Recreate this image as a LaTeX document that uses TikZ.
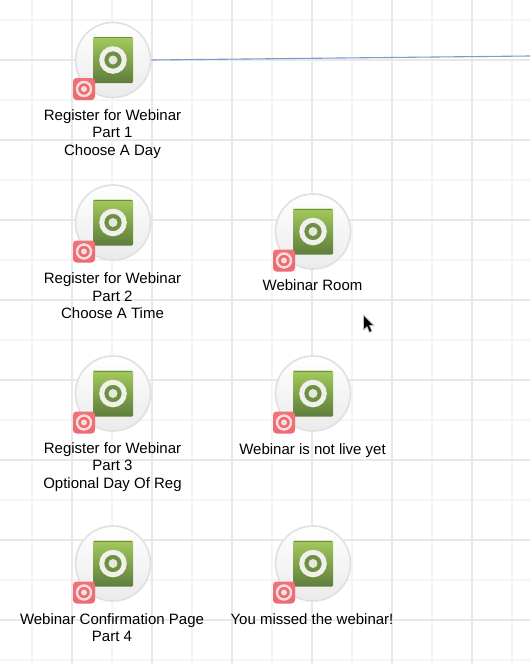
\documentclass[tikz,border=0pt]{standalone}
\usepackage{fontspec}
\setmainfont{Liberation Sans}
\definecolor{gridminor}{HTML}{F4F4F4}
\definecolor{gridmajor}{HTML}{E8E8E8}
\definecolor{linkblue}{HTML}{7C9AD0}
\definecolor{gcol1}{HTML}{A3CA5C}
\definecolor{gcol2}{HTML}{5E7D3C}
\definecolor{gtop}{HTML}{6F8E42}
\definecolor{gapg}{HTML}{6F8F44}
\definecolor{dotg}{HTML}{E4E8D8}
\definecolor{rcol1}{HTML}{F27078}
\definecolor{rcol2}{HTML}{EE6A72}
\definecolor{ringg}{HTML}{F1F1EC}
\definecolor{ringr}{HTML}{F9DEDE}
\tikzset{
  x=1pt,y=-1pt,
  minorline/.style={draw=gridminor,line width=1.1pt},
  majorline/.style={draw=gridmajor,line width=1.1pt},
  halo/.style={circle,minimum size=75pt,inner sep=0pt,draw=black!12,line width=1.6pt,top color=white,bottom color=black!8},
  greenbox/.style={minimum width=40pt,minimum height=46pt,inner sep=0pt,top color=gcol1,bottom color=gcol2,rounded corners=1.2pt},
  ringw/.style={circle,draw=#1,inner sep=0pt},
  redbox/.style={minimum size=22pt,inner sep=0pt,rounded corners=3.5pt,top color=rcol1,bottom color=rcol2},
  lab/.style={align=center,font=\fontsize{15pt}{17.5pt}\selectfont,inner sep=0pt,text=black},
  link/.style={draw=linkblue,line width=1.1pt}
}
\newcommand{\pageicon}[3]{%
  \node[halo] (#1) at (#2,#3) {};
  \node[greenbox] (#1g) at (#2,#3) {};
  \draw[gtop,line width=1pt] (#2-19,#3-22.5) -- (#2+19,#3-22.5);
  \node[ringw=ringg,line width=5pt,minimum size=22.5pt,fill=gapg] (#1r) at (#2,#3) {};
  \node[circle,inner sep=0pt,minimum size=9pt,fill=dotg] (#1d) at (#2,#3) {};
  \node[redbox] (#1b) at (#2-29,#3+29) {};
  \node[ringw=ringr,line width=2.4pt,minimum size=14pt,fill=rcol2] (#1c) at (#2-29,#3+29) {};
  \node[circle,inner sep=0pt,minimum size=6pt,fill=ringr] (#1e) at (#2-29,#3+29) {};
}
\begin{document}
\begin{tikzpicture}
\useasboundingbox (0,0) rectangle (530,664);
\fill[white] (0,0) rectangle (530,664);
\foreach \v in {32,112,192,272,352,432,512} \draw[minorline] (\v,0) -- (\v,664);
\foreach \v in {20,100,180,260,340,420,500,580,660} \draw[minorline] (0,\v) -- (530,\v);
\foreach \v in {72,152,232,312,392,472} \draw[majorline] (\v,0) -- (\v,664);
\foreach \v in {60,140,220,300,380,460,540,620} \draw[majorline] (0,\v) -- (530,\v);
\pageicon{a}{113}{60}
\pageicon{b}{113}{222.5}
\pageicon{c}{113}{393.5}
\pageicon{d}{113}{563.5}
\pageicon{e}{313}{231.5}
\pageicon{f}{313}{393.5}
\pageicon{g}{313}{563.5}
\coordinate (edge) at (530,56);
\draw[link] (a.east) -- (edge);
\node[lab,anchor=center] (la) at (112.5,134) {Register for Webinar\\Part 1\\Choose A Day};
\node[lab,anchor=center] (lb) at (112.5,295.7) {Register for Webinar\\Part 2\\Choose A Time};
\node[lab,anchor=center] (lc) at (112.5,467) {Register for Webinar\\Part 3\\Optional Day Of Reg};
\node[lab,anchor=center] (ld) at (112,627.5) {Webinar Confirmation Page\\Part 4};
\node[lab,anchor=center] (le) at (312.5,285.5) {Webinar Room};
\node[lab,anchor=center] (lf) at (312.5,450.5) {Webinar is not live yet};
\node[lab,anchor=center] (lg) at (312,619) {You missed the webinar!};
\draw[fill=black,draw=black!25,line width=0.8pt,line join=round]
  (363.5,315) -- (363.5,330) -- (367,326.6) -- (369.4,332.4) -- (372,331.2) -- (369.6,325.6) -- (374,325.6) -- cycle;
\end{tikzpicture}
\end{document}
